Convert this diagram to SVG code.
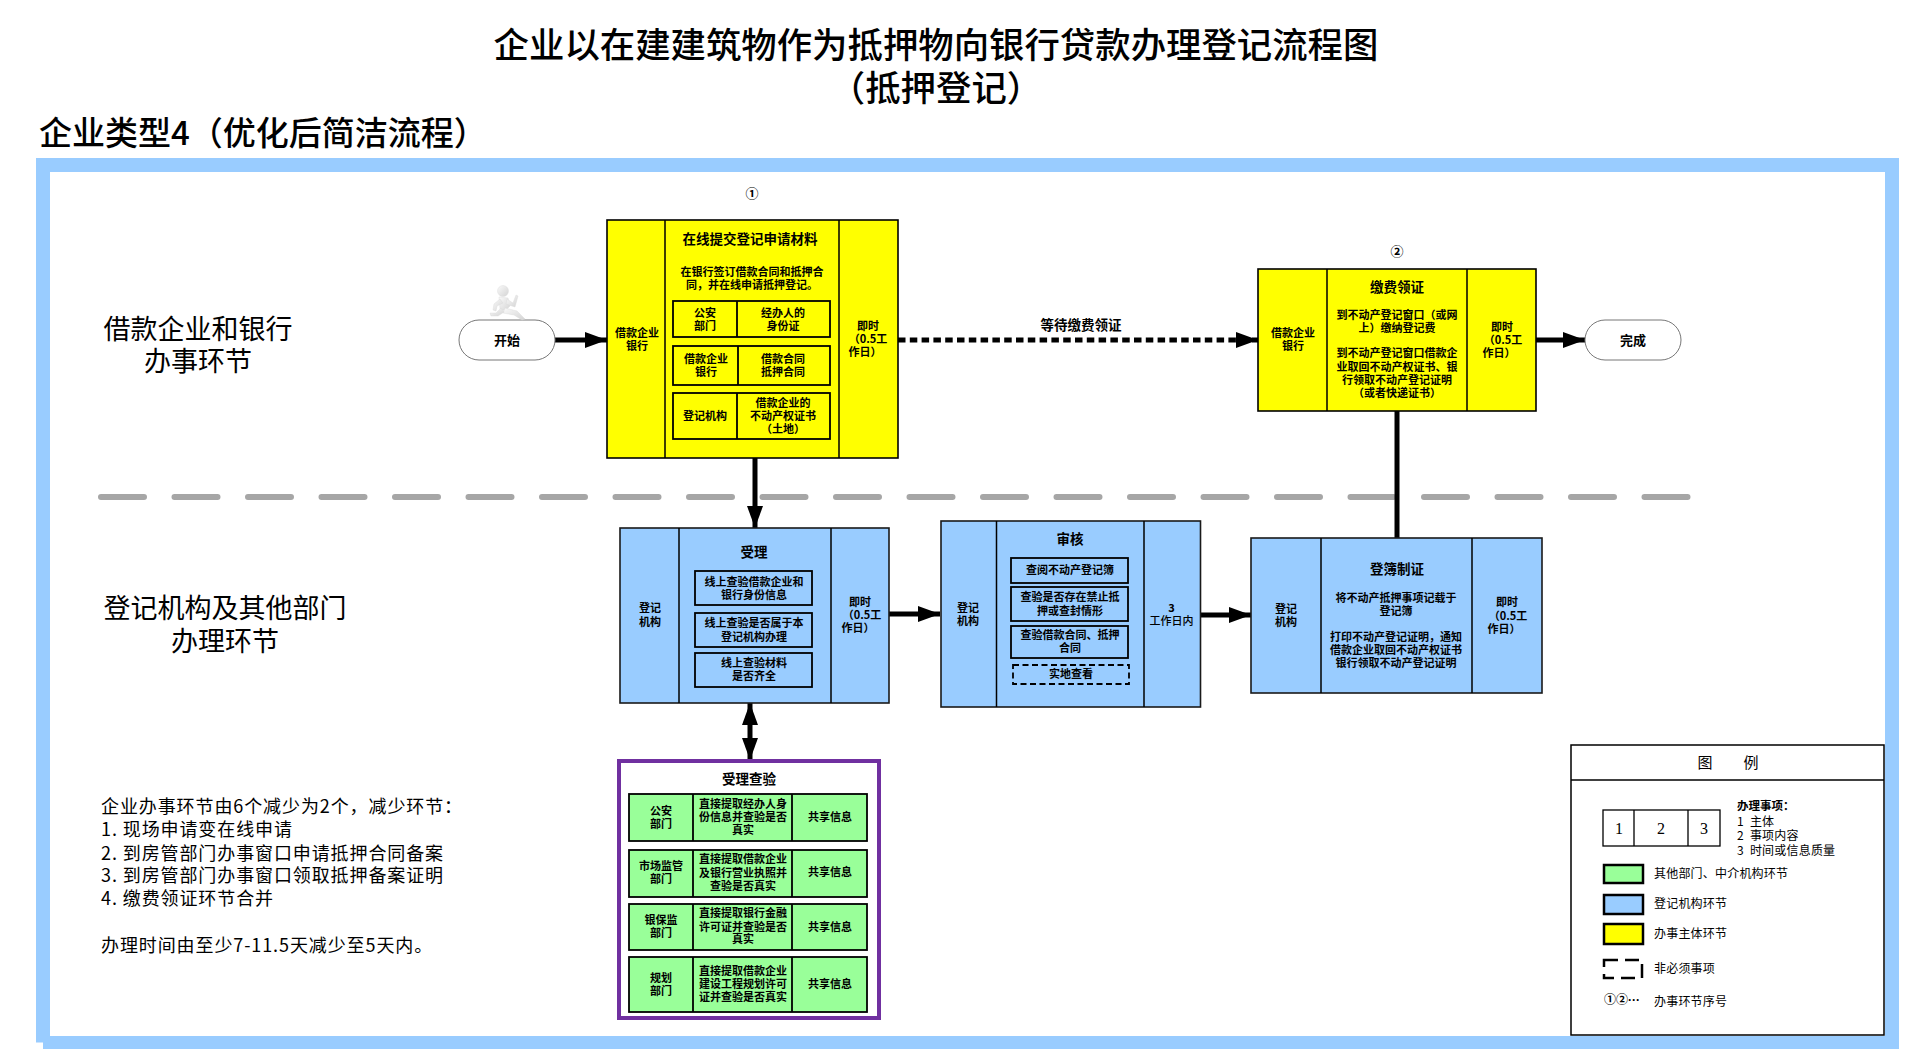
<svg xmlns="http://www.w3.org/2000/svg" width="1920" height="1058" viewBox="0 0 1920 1058">
<style>
text{font-family:"Noto Sans CJK SC","Liberation Sans",sans-serif;fill:#000;dominant-baseline:central}
.c{text-anchor:middle}
.b{font-weight:700;font-size:11px;transform:translateY(-1px)}
.t{font-weight:700;font-size:13.5px;transform:translateY(-1px)}
.h{font-size:27px;transform:translateY(-2px)}
.n{font-size:18px;letter-spacing:.9px;transform:translateY(-1px)}
.l{font-size:12px;letter-spacing:.2px;transform:translateY(-1px)}
.m{font-size:35.4px;font-weight:500}
.y{fill:#ff0;stroke:#000;stroke-width:1.6}
.u{fill:#9cf;stroke:#1a1a1a;stroke-width:1.6}
.g{fill:#9f9;stroke:#000;stroke-width:1.8}
.o{fill:none;stroke:#000;stroke-width:1.8}
.d{fill:none;stroke:#000;stroke-width:1.5}
.p{fill:#fff;stroke:#777;stroke-width:1}
.a{fill:none;stroke:#000;stroke-width:5}
</style>
<defs>
<marker id="ah" markerUnits="userSpaceOnUse" markerWidth="22" markerHeight="16" refX="22" refY="8" orient="auto"><path d="M0 0L22 8L0 16Z" fill="#000"/></marker>
<marker id="as" markerUnits="userSpaceOnUse" markerWidth="22" markerHeight="16" refX="0" refY="8" orient="auto"><path d="M22 0L0 8L22 16Z" fill="#000"/></marker>
<linearGradient id="fig" x1="0" y1="0" x2="1" y2="1"><stop offset="0" stop-color="#fafafa"/><stop offset="1" stop-color="#d4d4d4"/></linearGradient>
</defs>

<g id="frame">
<path d="M36 158H1899V1049H43V1042.500H36Z" fill="#9cf"/>
<rect x="50" y="172" width="1835" height="864" fill="#fff"/>
<line x1="101" y1="497" x2="1689" y2="497" stroke="#a6a6a6" stroke-width="6" stroke-linecap="round" stroke-dasharray="43 30.500"/>
</g>

<g id="titles">
<text class="c m" x="936" y="42">企业以在建建筑物作为抵押物向银行贷款办理登记流程图</text>
<text class="c m" x="936" y="85">（抵押登记）</text>
<text x="39" y="131" style="font-size:33px;font-weight:500">企业类型4（优化后简洁流程）</text>
<text class="c h" x="198" y="329">借款企业和银行</text>
<text class="c h" x="198" y="361">办事环节</text>
<text class="c h" x="225" y="608">登记机构及其他部门</text>
<text class="c h" x="225" y="641">办理环节</text>
</g>

<g id="notes">
<text class="n" x="101" y="806">企业办事环节由6个减少为2个，减少环节：</text>
<text class="n" x="101" y="829">1. 现场申请变在线申请</text>
<text class="n" x="101" y="853">2. 到房管部门办事窗口申请抵押合同备案</text>
<text class="n" x="101" y="875">3. 到房管部门办事窗口领取抵押备案证明</text>
<text class="n" x="101" y="898">4. 缴费领证环节合并</text>
<text class="n" x="101" y="945">办理时间由至少7-11.5天减少至5天内。</text>
</g>

<g id="connectors">
<line class="a" x1="555" y1="340" x2="607" y2="340" marker-end="url(#ah)"/>
<line class="a" x1="898" y1="340" x2="1258" y2="340" stroke-dasharray="7.500 4.300" marker-end="url(#ah)"/>
<line class="a" x1="1536" y1="340" x2="1585" y2="340" marker-end="url(#ah)"/>
<line class="a" x1="755" y1="458" x2="755" y2="528" marker-end="url(#ah)"/>
<line class="a" x1="889" y1="614" x2="940" y2="614" marker-end="url(#ah)"/>
<line class="a" x1="1200" y1="615" x2="1251" y2="615" marker-end="url(#ah)"/>
<line class="a" x1="1397" y1="411" x2="1397" y2="538"/>
<line class="a" x1="750" y1="703" x2="750" y2="760" marker-start="url(#as)" marker-end="url(#ah)"/>
<text class="t c" x="1081" y="325">等待缴费领证</text>
</g>

<g id="start">
<rect class="p" x="459" y="320" width="96" height="40" rx="20"/>
<text class="t c" x="507" y="340" style="font-size:13px">开始</text>
<g id="runner" fill="url(#fig)" stroke="#d8d8d8" stroke-width=".4">
<circle cx="503" cy="291" r="5.500"/>
<path d="M499 297L508 298L510 306L505 311L500 309Z"/>
<path d="M507 299L513 303L516 295L518 296L515 307L506 304Z"/>
<path d="M500 299L494 304L493 310L496 311L497 306L503 303Z"/>
<path d="M505 308L517 311L525 319L522 320L514 315L503 313Z"/>
<path d="M501 308L504 312L498 316L491 316L490 313L496 313Z"/>
</g>
</g>

<g id="n1">
<text class="c" x="752" y="192" style="font-size:13px;font-weight:700">①</text>
<rect class="y" x="607" y="220" width="291" height="238"/>
<path class="d" d="M665 220V458M839 220V458"/>
<text class="b c" x="637" y="333">借款企业</text><text class="b c" x="637" y="346">银行</text>
<text class="t c" x="750" y="239">在线提交登记申请材料</text>
<text class="b c" x="752" y="272">在银行签订借款合同和抵押合</text>
<text class="b c" x="752" y="285">同，并在线申请抵押登记。</text>
<rect class="o" x="673" y="301" width="157" height="36"/><path class="o" d="M737 301V337"/>
<text class="b c" x="705" y="313">公安</text><text class="b c" x="705" y="326">部门</text>
<text class="b c" x="783" y="313">经办人的</text><text class="b c" x="783" y="326">身份证</text>
<rect class="o" x="673" y="346" width="157" height="39"/><path class="o" d="M738 346V385"/>
<text class="b c" x="706" y="359">借款企业</text><text class="b c" x="706" y="372">银行</text>
<text class="b c" x="783" y="359">借款合同</text><text class="b c" x="783" y="372">抵押合同</text>
<rect class="o" x="673" y="393" width="157" height="46"/><path class="o" d="M737 393V439"/>
<text class="b c" x="705" y="416">登记机构</text>
<text class="b c" x="783" y="403">借款企业的</text><text class="b c" x="783" y="416">不动产权证书</text><text class="b c" x="783" y="429">（土地）</text>
<text class="b c" x="868" y="326">即时</text><text class="b c" x="868" y="339">（0.5工</text><text class="b c" x="865" y="352">作日）</text>
</g>

<g id="n2">
<text class="c" x="1397" y="250" style="font-size:13px;font-weight:700">②</text>
<rect class="y" x="1258" y="269" width="278" height="142"/>
<path class="d" d="M1327 269V411M1467 269V411"/>
<text class="b c" x="1293" y="333">借款企业</text><text class="b c" x="1293" y="346">银行</text>
<text class="t c" x="1397" y="287">缴费领证</text>
<text class="b c" x="1397" y="315">到不动产登记窗口（或网</text>
<text class="b c" x="1397" y="328">上）缴纳登记费</text>
<text class="b c" x="1397" y="353">到不动产登记窗口借款企</text>
<text class="b c" x="1397" y="367">业取回不动产权证书、银</text>
<text class="b c" x="1397" y="380">行领取不动产登记证明</text>
<text class="b c" x="1397" y="393">（或者快递证书）</text>
<text class="b c" x="1502" y="327">即时</text><text class="b c" x="1503" y="340">（0.5工</text><text class="b c" x="1499" y="353">作日）</text>
</g>

<g id="finish">
<rect class="p" x="1585" y="320" width="96" height="40" rx="20"/>
<text class="t c" x="1633" y="340" style="font-size:13px">完成</text>
</g>

<g id="n3">
<rect class="u" x="620" y="528" width="269" height="175"/>
<path class="d" d="M679 528V703M831 528V703"/>
<text class="b c" x="650" y="608">登记</text><text class="b c" x="650" y="622">机构</text>
<text class="t c" x="754" y="552">受理</text>
<rect class="o" x="695" y="571" width="117" height="34"/>
<text class="b c" x="754" y="582">线上查验借款企业和</text><text class="b c" x="754" y="595">银行身份信息</text>
<rect class="o" x="695" y="613" width="117" height="34"/>
<text class="b c" x="754" y="623">线上查验是否属于本</text><text class="b c" x="754" y="637">登记机构办理</text>
<rect class="o" x="695" y="653" width="117" height="34"/>
<text class="b c" x="754" y="663">线上查验材料</text><text class="b c" x="754" y="676">是否齐全</text>
<text class="b c" x="860" y="602">即时</text><text class="b c" x="862" y="615">（0.5工</text><text class="b c" x="858" y="628">作日）</text>
</g>

<g id="n4">
<rect class="u" x="941" y="521" width="259.500" height="186"/>
<path class="d" d="M996.500 521V707M1144 521V707"/>
<text class="b c" x="968" y="608">登记</text><text class="b c" x="968" y="621">机构</text>
<text class="t c" x="1070" y="539">审核</text>
<rect class="o" x="1011" y="558" width="117" height="25"/>
<text class="b c" x="1070" y="570">查阅不动产登记簿</text>
<rect class="o" x="1011" y="587" width="117" height="34"/>
<text class="b c" x="1070" y="597">查验是否存在禁止抵</text><text class="b c" x="1070" y="611">押或查封情形</text>
<rect class="o" x="1011" y="626" width="117" height="32"/>
<text class="b c" x="1070" y="635">查验借款合同、抵押</text><text class="b c" x="1070" y="648">合同</text>
<rect class="o" x="1013" y="665" width="116" height="19" stroke-dasharray="6 3.500"/>
<text class="b c" x="1071" y="674">实地查看</text>
<text class="b c" x="1171.500" y="608">3</text><text class="c" x="1171.500" y="620" style="font-size:11px;font-weight:500">工作日内</text>
</g>

<g id="n5">
<rect class="u" x="1251" y="538" width="291" height="155"/>
<path class="d" d="M1321 538V693M1472 538V693"/>
<text class="b c" x="1286" y="609">登记</text><text class="b c" x="1286" y="622">机构</text>
<text class="t c" x="1397" y="569">登簿制证</text>
<text class="b c" x="1396" y="598">将不动产抵押事项记载于</text>
<text class="b c" x="1396" y="611">登记簿</text>
<text class="b c" x="1396" y="637">打印不动产登记证明，通知</text>
<text class="b c" x="1396" y="650">借款企业取回不动产权证书</text>
<text class="b c" x="1396" y="663">银行领取不动产登记证明</text>
<text class="b c" x="1507" y="602">即时</text><text class="b c" x="1508" y="616">（0.5工</text><text class="b c" x="1504" y="629">作日）</text>
</g>

<g id="n6">
<rect x="619" y="761" width="260" height="257" fill="#fff" stroke="#7030a0" stroke-width="4"/>
<text class="t c" x="749" y="779">受理查验</text>
<g id="r1"><rect class="g" x="629" y="794" width="238" height="47"/><path class="o" d="M693 794V841M792 794V841"/>
<text class="b c" x="661" y="811">公安</text><text class="b c" x="661" y="824">部门</text>
<text class="b c" x="743" y="804">直接提取经办人身</text><text class="b c" x="743" y="817">份信息并查验是否</text><text class="b c" x="743" y="830">真实</text>
<text class="b c" x="830" y="817">共享信息</text></g>
<g id="r2"><rect class="g" x="629" y="850" width="238" height="47"/><path class="o" d="M693 850V897M792 850V897"/>
<text class="b c" x="661" y="866">市场监管</text><text class="b c" x="661" y="879">部门</text>
<text class="b c" x="743" y="859">直接提取借款企业</text><text class="b c" x="743" y="873">及银行营业执照并</text><text class="b c" x="743" y="886">查验是否真实</text>
<text class="b c" x="830" y="872">共享信息</text></g>
<g id="r3"><rect class="g" x="629" y="904" width="238" height="46"/><path class="o" d="M693 904V950M792 904V950"/>
<text class="b c" x="661" y="920">银保监</text><text class="b c" x="661" y="933">部门</text>
<text class="b c" x="743" y="913">直接提取银行金融</text><text class="b c" x="743" y="927">许可证并查验是否</text><text class="b c" x="743" y="939">真实</text>
<text class="b c" x="830" y="927">共享信息</text></g>
<g id="r4"><rect class="g" x="629" y="957" width="238" height="55"/><path class="o" d="M693 957V1012M792 957V1012"/>
<text class="b c" x="661" y="978">规划</text><text class="b c" x="661" y="991">部门</text>
<text class="b c" x="743" y="971">直接提取借款企业</text><text class="b c" x="743" y="984">建设工程规划许可</text><text class="b c" x="743" y="997">证并查验是否真实</text>
<text class="b c" x="830" y="984">共享信息</text></g>
</g>

<g id="legend">
<rect x="1571" y="745" width="313" height="290" fill="#fff" stroke="#000" stroke-width="1.500"/>
<line x1="1571" y1="780" x2="1884" y2="780" stroke="#000" stroke-width="1.500"/>
<text class="c" x="1705" y="761" style="font-size:15px">图</text><text class="c" x="1751" y="761" style="font-size:15px">例</text>
<rect class="o" x="1603" y="810" width="117" height="36" style="stroke-width:1.300"/><path class="o" d="M1634 810V846M1688 810V846" style="stroke-width:1.300"/>
<text class="c" x="1619" y="828" style="font-family:'Liberation Serif',serif;font-size:16px">1</text>
<text class="c" x="1661" y="828" style="font-family:'Liberation Serif',serif;font-size:16px">2</text>
<text class="c" x="1704" y="828" style="font-family:'Liberation Serif',serif;font-size:16px">3</text>
<text x="1737" y="805" style="font-size:11.500px;font-weight:700">办理事项：</text>
<text class="l" x="1737" y="821"><tspan>1</tspan><tspan dx="6">主体</tspan></text>
<text class="l" x="1737" y="835"><tspan>2</tspan><tspan dx="6">事项内容</tspan></text>
<text class="l" x="1737" y="850"><tspan>3</tspan><tspan dx="6">时间或信息质量</tspan></text>
<rect x="1604" y="865" width="39" height="18" fill="#9f9" stroke="#000" stroke-width="2.500"/>
<text class="l" x="1654" y="873">其他部门、中介机构环节</text>
<rect x="1604" y="895" width="39" height="19" fill="#9cf" stroke="#000" stroke-width="2.500"/>
<text class="l" x="1654" y="903">登记机构环节</text>
<rect x="1604" y="924" width="39" height="20" fill="#ff0" stroke="#000" stroke-width="2.500"/>
<text class="l" x="1654" y="933">办事主体环节</text>
<rect x="1604" y="960" width="38" height="18" fill="none" stroke="#000" stroke-width="2.500" stroke-dasharray="14 7"/>
<text class="l" x="1654" y="968">非必须事项</text>
<text x="1604" y="1000" style="font-family:'Liberation Sans','Noto Sans CJK SC',sans-serif;font-size:12px;font-weight:700">①②···</text>
<text class="l" x="1654" y="1001">办事环节序号</text>
</g>
</svg>
